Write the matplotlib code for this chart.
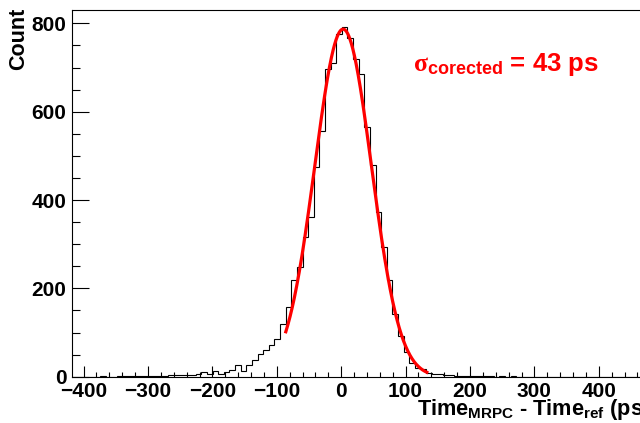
import numpy as np
import matplotlib
matplotlib.use("Agg")
import matplotlib.pyplot as plt
from matplotlib.ticker import MultipleLocator

plt.rcParams['font.family'] = ['Liberation Sans', 'DejaVu Sans']
plt.rcParams['font.weight'] = 'bold'
plt.rcParams['mathtext.fontset'] = 'custom'
plt.rcParams['mathtext.rm'] = 'Liberation Sans:bold'
plt.rcParams['mathtext.bf'] = 'Liberation Sans:bold'
plt.rcParams['mathtext.it'] = 'Liberation Serif'
plt.rcParams['mathtext.sf'] = 'Liberation Sans:bold'

# Histogram definition (ps)
hist_low = -418.0
bin_width = 8.73
counts = [
    0, 0, 0, 0, 0, 1, 0, 0, 1, 2,
    1, 1, 2, 2, 2, 2, 2, 4, 4, 3,
    3, 4, 6, 10, 5, 12, 5, 10, 15, 26,
    12, 26, 38, 52, 60, 72, 85, 119, 157, 219,
    248, 317, 361, 474, 556, 697, 710, 776, 792, 768,
    720, 685, 566, 480, 372, 294, 219, 143, 93, 55,
    30, 20, 18, 8, 6, 6, 3, 3, 2, 2,
    1, 2, 1, 1, 1, 0, 1, 0, 1, 0,
    0, 0, 0, 0, 0, 0, 0, 0, 0, 0,
    0, 0, 0, 0, 0, 0, 0, 0, 0, 0,
    0, 0, 0,
]

# Gaussian fit parameters
fit_amp = 787.0
fit_mean = 3.0
fit_sigma = 44.0
fit_lo, fit_hi = -86.0, 133.0

x_ticks = [-400, -300, -200, -100, 0, 100, 200, 300, 400]
y_ticks = [0, 200, 400, 600, 800]

fig = plt.figure(figsize=(6.4, 4.23), dpi=100)
W, H = 640, 423
ax_left_px, ax_right_px = 72, 650.3
ax_top_px, ax_bot_px = 9.7, 376.7
ax = fig.add_axes([ax_left_px / W, (H - ax_bot_px) / H,
                   (ax_right_px - ax_left_px) / W, (ax_bot_px - ax_top_px) / H])

edges = hist_low + bin_width * np.arange(len(counts) + 1)
ax.stairs(counts, edges, color='black', lw=0.8)

xf = np.linspace(fit_lo, fit_hi, 400)
yf = fit_amp * np.exp(-0.5 * ((xf - fit_mean) / fit_sigma) ** 2)
ax.plot(xf, yf, color='#ff0000', lw=2.3)

ax.set_xlim(-418, 480)
ax.set_ylim(0, 831)
ax.set_xticks(x_ticks)
ax.set_yticks(y_ticks)
ax.xaxis.set_minor_locator(MultipleLocator(20))
ax.yaxis.set_minor_locator(MultipleLocator(50))
ax.tick_params(axis='x', which='major', direction='in', length=7.6, width=0.8,
               labelsize=15, pad=4.0)
ax.tick_params(axis='x', which='minor', direction='in', length=3.6, width=0.8)
ax.tick_params(axis='y', which='major', direction='in', length=12.2, width=0.8,
               labelsize=15, pad=4)
ax.tick_params(axis='y', which='minor', direction='in', length=6.1, width=0.8)
ax.tick_params(top=False, right=False, which='both')
for s in ax.spines.values():
    s.set_linewidth(0.8)

fig.text(18.5 / W, (H - 8) / H, 'Count', rotation=90, ha='center', va='top',
         fontsize=15.5, fontweight='bold')
fig.text(ax_right_px / W, (H - 414.5) / H,
         r'Time$_{\mathbf{MRPC}}$ - Time$_{\mathbf{ref}}$ (ps)',
         ha='right', va='baseline', fontsize=15.7, fontweight='bold')

fig.text(413 / W, (H - 71) / H, r'$\sigma_{\mathbf{corected}}$ = 43 ps',
         ha='left', va='baseline', fontsize=18.5, fontweight='bold', color='#ff0000')

fig.savefig('out.png', dpi=100)
